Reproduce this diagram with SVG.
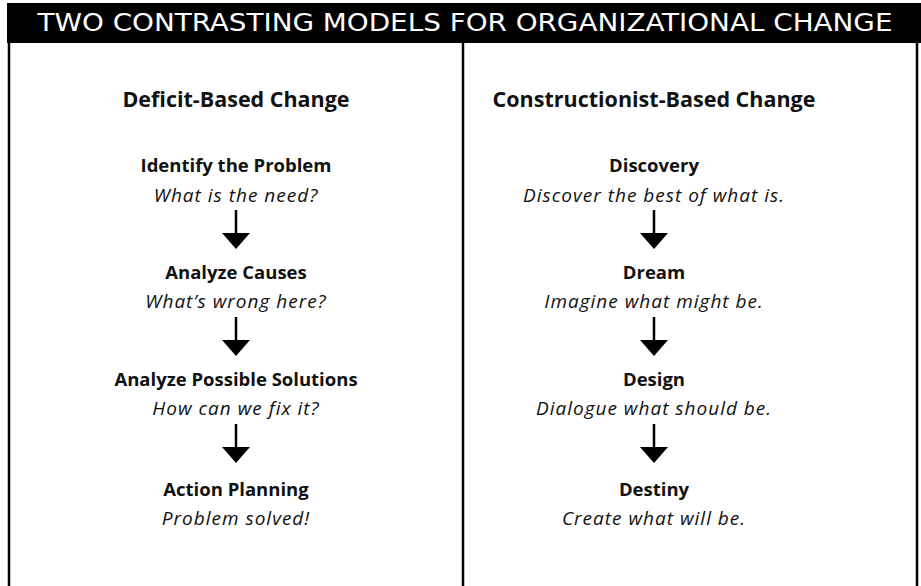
<svg xmlns="http://www.w3.org/2000/svg" width="921" height="586" viewBox="0 0 921 586">
<style>
.hd{font-family:"Open Sans","Noto Sans",sans-serif;font-weight:bold;font-size:21.5px;fill:#111;text-anchor:middle}
.h{font-family:"Open Sans","Noto Sans",sans-serif;font-weight:bold;font-size:18.5px;fill:#111;text-anchor:middle}
.s{font-family:"Open Sans","Noto Sans",sans-serif;font-style:italic;font-size:19px;letter-spacing:1px;fill:#111;text-anchor:middle}
.t{font-family:"DejaVu Sans Condensed","DejaVu Sans",sans-serif;font-size:24px;fill:#fff;text-anchor:middle}
.stem{stroke:#000;stroke-width:2.5;fill:none}
.frame{stroke:#000;stroke-width:2.5;fill:none}
</style>
<defs>
<g id="arrow"><line class="stem" x1="0" y1="0" x2="0" y2="24"/><polygon points="-14,23 14,23 0,39" fill="#000"/></g>
</defs>
<rect width="921" height="586" fill="#fff"/>
<g id="frame">
<rect x="7" y="3" width="914" height="40" fill="#000"/>
<line class="frame" x1="9" y1="43" x2="9" y2="586"/>
<line class="frame" x1="917" y1="43" x2="917" y2="586"/>
<line class="frame" x1="463" y1="43" x2="463" y2="586"/>
</g>
<g id="title"><text class="t" x="465" y="31" textLength="855" lengthAdjust="spacingAndGlyphs">TWO CONTRASTING MODELS FOR ORGANIZATIONAL CHANGE</text></g>
<g id="deficit">
<text class="hd" x="236" y="107">Deficit-Based Change</text>
<g id="d1"><text class="h" x="236" y="172">Identify the Problem</text><text class="s" x="236" y="202">What is the need?</text></g>
<g id="d2"><text class="h" x="236" y="279">Analyze Causes</text><text class="s" x="236" y="308">What’s wrong here?</text></g>
<g id="d3"><text class="h" x="236" y="386">Analyze Possible Solutions</text><text class="s" x="236" y="415">How can we fix it?</text></g>
<g id="d4"><text class="h" x="236" y="496">Action Planning</text><text class="s" x="236" y="525">Problem solved!</text></g>
</g>
<g id="constructionist">
<text class="hd" x="654" y="107">Constructionist-Based Change</text>
<g id="c1"><text class="h" x="654" y="172">Discovery</text><text class="s" x="654" y="202">Discover the best of what is.</text></g>
<g id="c2"><text class="h" x="654" y="279">Dream</text><text class="s" x="654" y="308">Imagine what might be.</text></g>
<g id="c3"><text class="h" x="654" y="386">Design</text><text class="s" x="654" y="415">Dialogue what should be.</text></g>
<g id="c4"><text class="h" x="654" y="496">Destiny</text><text class="s" x="654" y="525">Create what will be.</text></g>
</g>
<g id="connectors">
<use href="#arrow" x="236" y="210"/>
<use href="#arrow" x="236" y="317"/>
<use href="#arrow" x="236" y="424"/>
<use href="#arrow" x="654" y="210"/>
<use href="#arrow" x="654" y="317"/>
<use href="#arrow" x="654" y="424"/>
</g>
</svg>
